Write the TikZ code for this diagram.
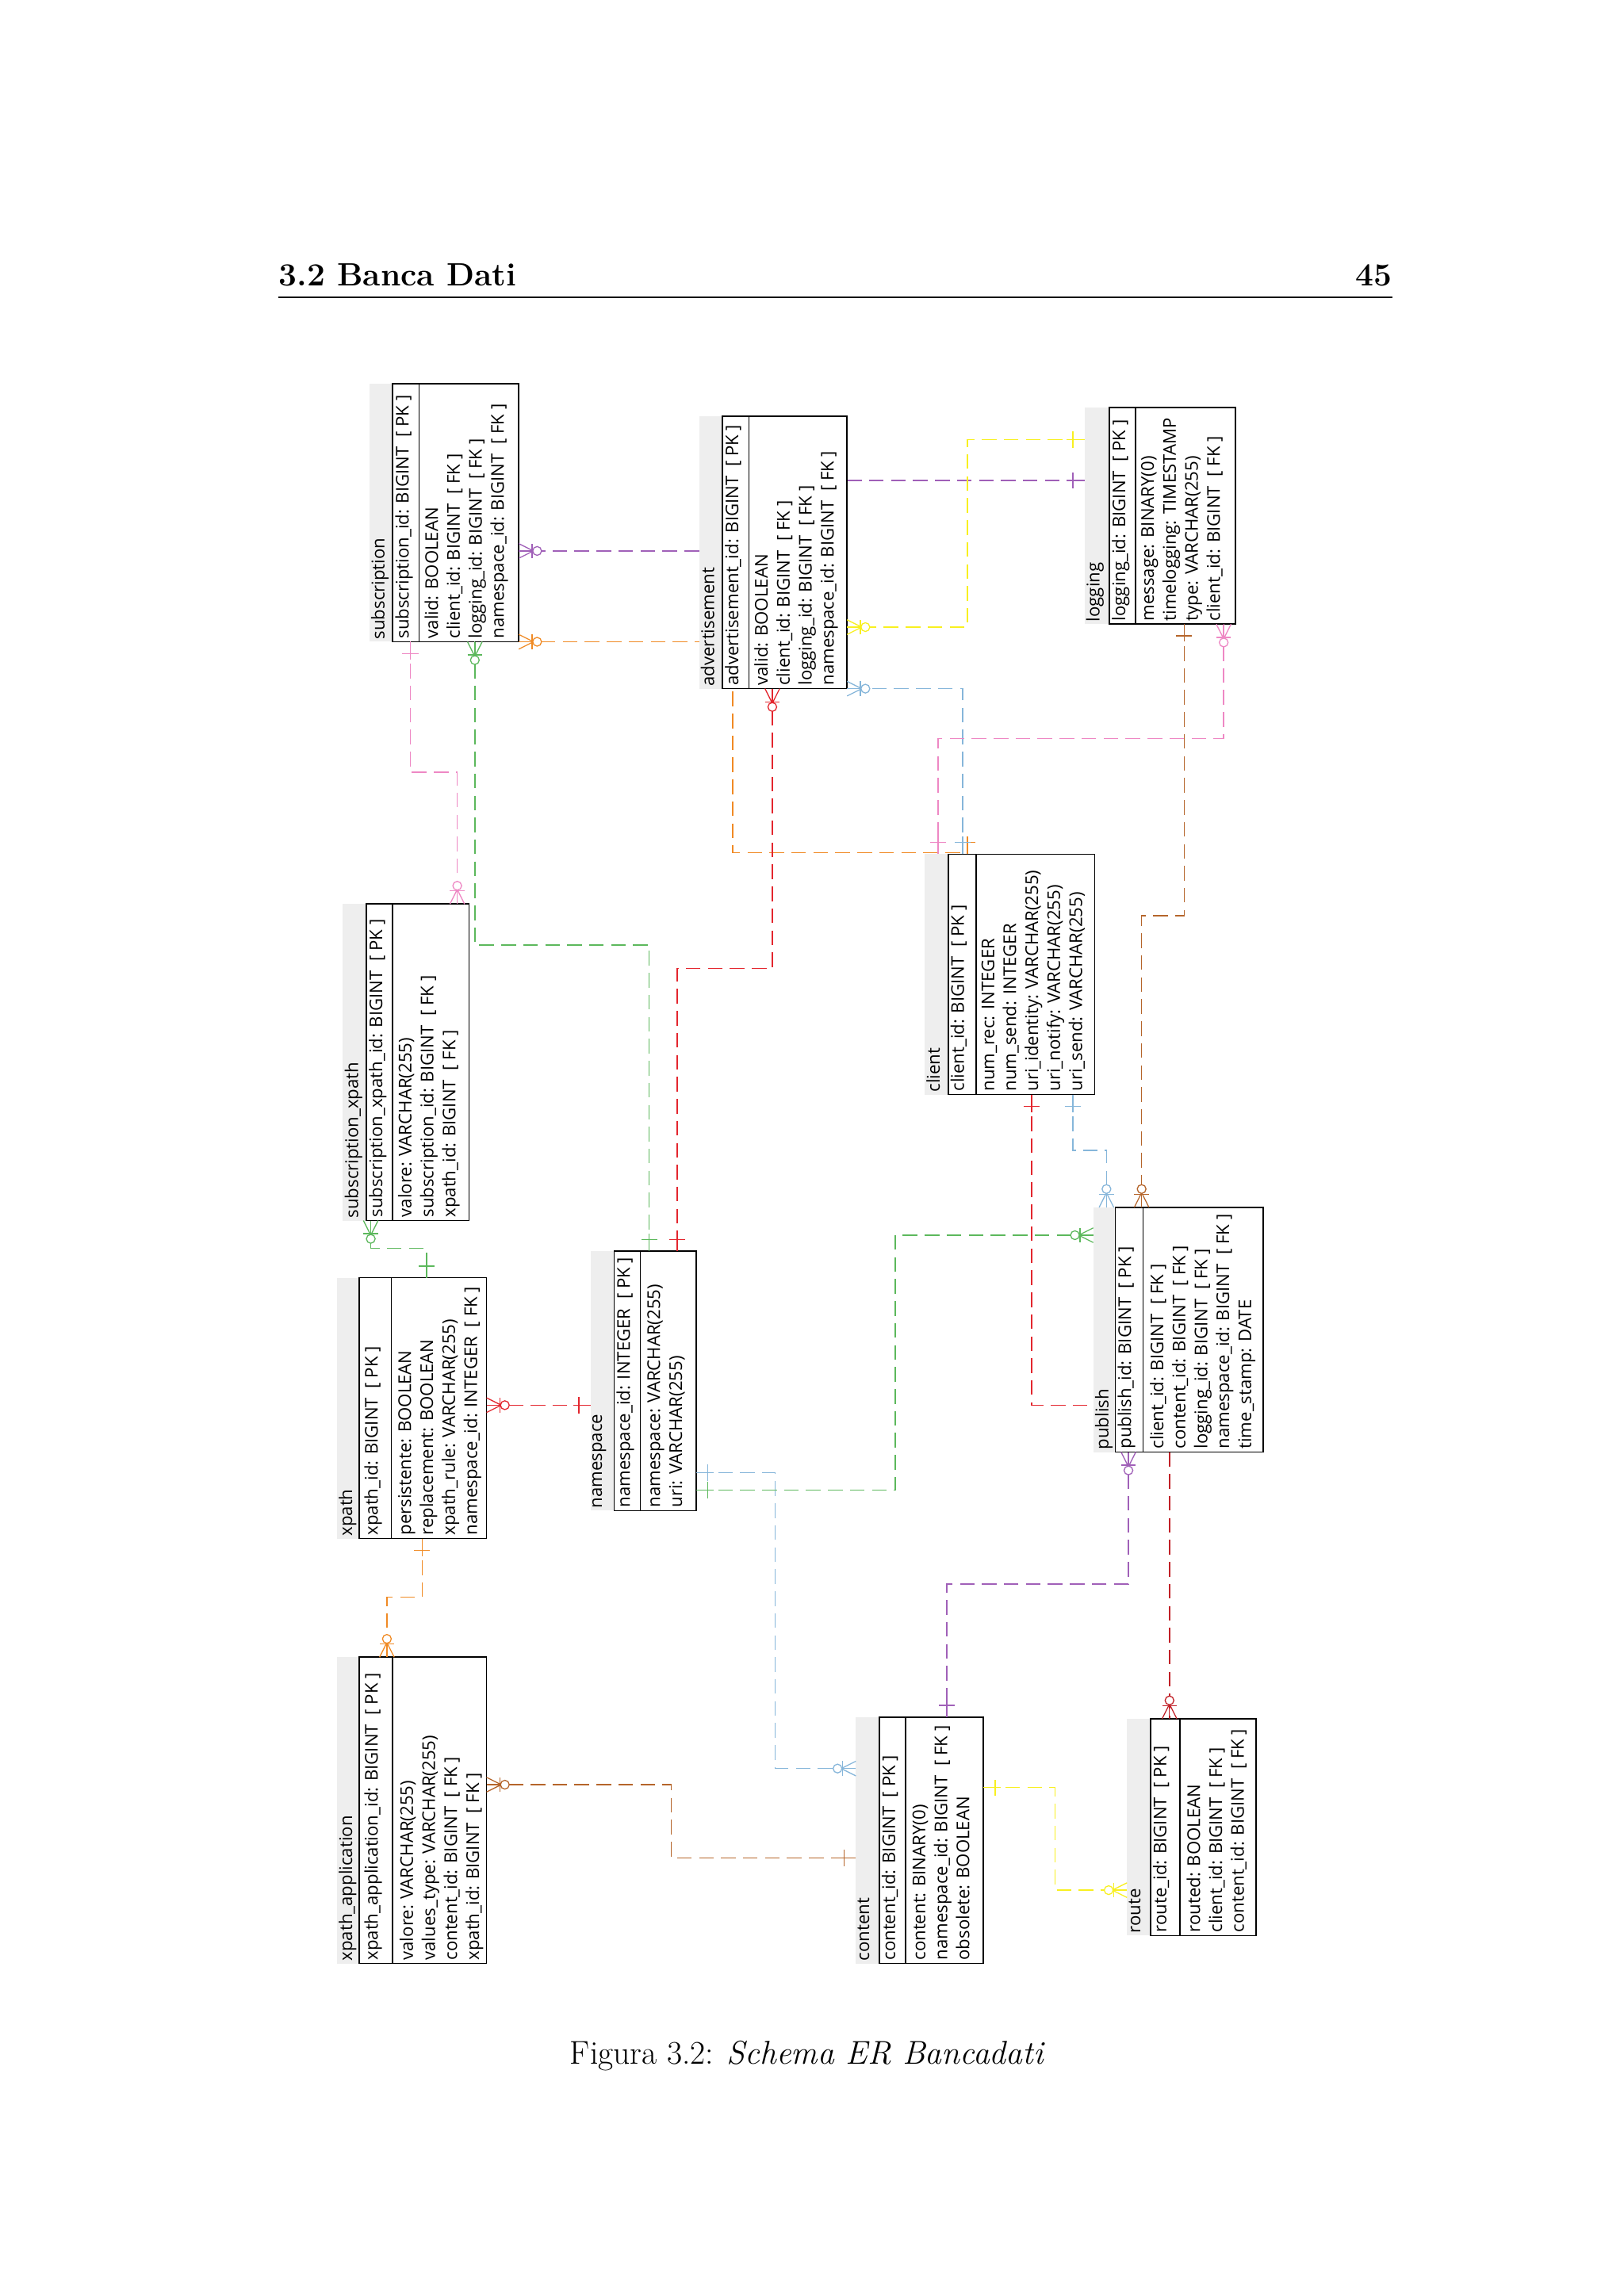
\documentclass[tikz,border=0pt]{standalone}
\usepackage{fontspec}
\newfontfamily\erfont{Open Sans}
\definecolor{cpur}{HTML}{A060B8}
\definecolor{cora}{HTML}{F08A24}
\definecolor{cgre}{HTML}{5CB85C}
\definecolor{cred}{HTML}{E3262E}
\definecolor{cblu}{HTML}{86B6DA}
\definecolor{cpin}{HTML}{EE88C4}
\definecolor{cyel}{HTML}{F8F020}
\definecolor{cbro}{HTML}{B5652B}
\tikzset{
  conn/.style={line width=.8pt, dash pattern=on 10pt off 5pt},
  ttl/.style={rotate=90, anchor=north west, inner xsep=1.5pt, inner ysep=1pt, font=\erfont\fontsize{12}{15}\selectfont},
  fld/.style={rotate=90, anchor=north west, inner xsep=2pt, inner ysep=1.5pt, align=left, font=\erfont\fontsize{12}{15}\selectfont},
}
\newcommand\ertab[8]{%
  \fill[gray!13] (#2,#6) rectangle (#3,#7);
  \node[draw, fill=white, line width=.9pt, inner sep=0pt, outer sep=0pt,
        minimum width={#5pt-#3pt}, minimum height={#7pt-#6pt}, anchor=north west] (#1) at (#3,#6) {};
  \draw[line width=.9pt] (#4,#6) -- (#4,#7);
  \node[ttl] at (#2,#7) {#8};
}
\newcommand\manyend[4]{%
  \begin{scope}[shift={(#2,#3)}, rotate=#4, #1, line width=.7pt, x=1pt, y=1pt]
    \draw (0,-5) -- (10,0) -- (0,5); \draw (0,0) -- (10,0);
    \draw (9,-5) -- (9,5); \draw[fill=white] (12.5,0) circle (3);
  \end{scope}}
\newcommand\oneend[4]{%
  \begin{scope}[shift={(#2,#3)}, rotate=#4, #1, line width=.8pt, x=1pt, y=1pt]
    \draw (0,0) -- (12,0); \draw (8,-5.5) -- (8,5.5);
  \end{scope}}
\begin{document}
\begin{tikzpicture}[x=1pt, y=-1pt]
\useasboundingbox (0,0) rectangle (1108,1567);
\fill[white] (0,0) rectangle (1108,1567);
% header
\node[anchor=base west, inner sep=0, font=\fontsize{22}{26}\selectfont\bfseries] (hd) at (190,195) {3.2 Banca Dati};
\node[anchor=base east, inner sep=0, font=\fontsize{22}{26}\selectfont\bfseries] (pg) at (950,195) {45};
\draw[line width=.8pt] (190,203) -- (950,203);
\node[inner sep=0, font=\fontsize{22.5}{26}\selectfont] (cap) at (551,1403) {Figura 3.2: \textit{Schema ER Bancadati}};

% connectors
\draw[conn, cpur] (477,376) -- (354,376);
\draw[conn, cora] (354,438) -- (500,438) -- (500,582) -- (660,582);
\draw[conn, cpur] (578,328) -- (740,328);
\draw[conn, cyel] (740,300) -- (660,300) -- (660,428) -- (578,428);
\draw[conn, cgre] (324,438) -- (324,645) -- (443,645) -- (443,854);
\draw[conn, cred] (527,470) -- (527,661) -- (462,661) -- (462,854);
\draw[conn, cblu] (657,583) -- (657,470) -- (578,470);
\draw[conn, cpin] (835,426) -- (835,504) -- (640,504) -- (640,583);
\draw[conn, cbro] (808,426) -- (808,625) -- (779,625) -- (779,824);
\draw[conn, cpin] (280,438) -- (280,527) -- (312,527) -- (312,617);
\draw[conn, cgre] (253,833) -- (253,852) -- (291,852) -- (291,872);
\draw[conn, cred] (332,959) -- (403,959);
\draw[conn, cora] (288,1050) -- (288,1090) -- (264,1090) -- (264,1131);
\draw[conn, cbro] (332,1218) -- (458,1218) -- (458,1268) -- (584,1268);
\draw[conn, cblu] (475,1005) -- (529,1005) -- (529,1207) -- (584,1207);
\draw[conn, cgre] (475,1017) -- (611,1017) -- (611,843) -- (746,843);
\draw[conn, cred] (704,747) -- (704,959) -- (746,959);
\draw[conn, cblu] (732,747) -- (732,785) -- (755,785) -- (755,824);
\draw[conn, cpur] (770,991) -- (770,1081) -- (646,1081) -- (646,1172);
\draw[conn, cred!85!black] (798,991) -- (798,1173);
\draw[conn, cyel] (671,1220) -- (720,1220) -- (720,1290) -- (769,1290);

% tables
\ertab{sub}{252}{268}{286}{354}{262}{438}{subscription}
\node[fld] at (268,438) {subscription\_id: BIGINT \ [ PK ]};
\node[fld] at (288,438) {valid: BOOLEAN\\client\_id: BIGINT \ [ FK ]\\logging\_id: BIGINT \ [ FK ]\\namespace\_id: BIGINT \ [ FK ]};

\ertab{adv}{477}{493}{511}{578}{284}{470}{advertisement}
\node[fld] at (493,470) {advertisement\_id: BIGINT \ [ PK ]};
\node[fld] at (513,470) {valid: BOOLEAN\\client\_id: BIGINT \ [ FK ]\\logging\_id: BIGINT \ [ FK ]\\namespace\_id: BIGINT \ [ FK ]};

\ertab{log}{740}{757}{775}{843}{278}{426}{logging}
\node[fld] at (757,426) {logging\_id: BIGINT \ [ PK ]};
\node[fld] at (777,426) {message: BINARY(0)\\timelogging: TIMESTAMP\\type: VARCHAR(255)\\client\_id: BIGINT \ [ FK ]};

\ertab{cli}{631}{647}{666}{747}{583}{747}{client}
\node[fld] at (647,747) {client\_id: BIGINT \ [ PK ]};
\node[fld] at (668,747) {num\_rec: INTEGER\\num\_send: INTEGER\\uri\_identity: VARCHAR(255)\\uri\_notify: VARCHAR(255)\\uri\_send: VARCHAR(255)};

\ertab{sxp}{234}{250}{268}{320}{617}{833}{subscription\_xpath}
\node[fld] at (250,833) {subscription\_xpath\_id: BIGINT \ [ PK ]};
\node[fld] at (270,833) {valore: VARCHAR(255)\\subscription\_id: BIGINT \ [ FK ]\\xpath\_id: BIGINT \ [ FK ]};

\ertab{xp}{230}{245}{267}{332}{872}{1050}{xpath}
\node[fld] at (247,1050) {xpath\_id: BIGINT \ [ PK ]};
\node[fld] at (270,1050) {persistente: BOOLEAN\\replacement: BOOLEAN\\xpath\_rule: VARCHAR(255)\\namespace\_id: INTEGER \ [ FK ]};

\ertab{ns}{403}{419}{437}{475}{854}{1031}{namespace}
\node[fld] at (419,1031) {namespace\_id: INTEGER \ [ PK ]};
\node[fld] at (440,1031) {namespace: VARCHAR(255)\\uri: VARCHAR(255)};

\ertab{pub}{746}{761}{780}{862}{824}{991}{publish}
\node[fld] at (761,991) {publish\_id: BIGINT \ [ PK ]};
\node[fld] at (783,991) {client\_id: BIGINT \ [ FK ]\\content\_id: BIGINT \ [ FK ]\\logging\_id: BIGINT \ [ FK ]\\namespace\_id: BIGINT \ [ FK ]\\time\_stamp: DATE};

\ertab{xpa}{230}{245}{268}{332}{1131}{1340}{xpath\_application}
\node[fld] at (247,1340) {xpath\_application\_id: BIGINT \ [ PK ]};
\node[fld] at (271,1340) {valore: VARCHAR(255)\\values\_type: VARCHAR(255)\\content\_id: BIGINT \ [ FK ]\\xpath\_id: BIGINT \ [ FK ]};

\ertab{con}{584}{600}{618}{671}{1172}{1340}{content}
\node[fld] at (600,1340) {content\_id: BIGINT \ [ PK ]};
\node[fld] at (621,1340) {content: BINARY(0)\\namespace\_id: BIGINT \ [ FK ]\\obsolete: BOOLEAN};

\ertab{rou}{769}{785}{805}{857}{1173}{1321}{route}
\node[fld] at (785,1321) {route\_id: BIGINT \ [ PK ]};
\node[fld] at (808,1321) {routed: BOOLEAN\\client\_id: BIGINT \ [ FK ]\\content\_id: BIGINT \ [ FK ]};

% end markers
\manyend{cpur}{354}{376}{0}
\oneend{cpur}{740}{328}{180}
\oneend{cyel}{740}{300}{180}
\manyend{cyel}{578}{428}{0}
\manyend{cora}{354}{438}{0}
\oneend{cora}{660}{583}{90}
\manyend{cgre}{324}{438}{-90}
\oneend{cgre}{443}{854}{90}
\manyend{cred}{527}{470}{-90}
\oneend{cred}{462}{854}{90}
\oneend{cblu}{657}{583}{90}
\manyend{cblu}{578}{470}{0}
\manyend{cpin}{835}{426}{-90}
\oneend{cpin}{640}{583}{90}
\oneend{cbro}{808}{426}{-90}
\manyend{cbro}{779}{824}{90}
\oneend{cpin}{280}{438}{-90}
\manyend{cpin}{312}{617}{90}
\manyend{cgre}{253}{833}{-90}
\oneend{cgre}{291}{872}{90}
\manyend{cred}{332}{959}{0}
\oneend{cred}{403}{959}{180}
\oneend{cora}{288}{1050}{-90}
\manyend{cora}{264}{1131}{90}
\manyend{cbro}{332}{1218}{0}
\oneend{cbro}{584}{1268}{180}
\oneend{cblu}{475}{1005}{0}
\manyend{cblu}{584}{1207}{180}
\oneend{cgre}{475}{1017}{0}
\manyend{cgre}{746}{843}{180}
\oneend{cred}{704}{747}{-90}
\oneend{cblu}{732}{747}{-90}
\manyend{cblu}{755}{824}{90}
\manyend{cpur}{770}{991}{-90}
\oneend{cpur}{646}{1172}{90}
\manyend{cred!85!black}{798}{1173}{90}
\oneend{cyel}{671}{1220}{0}
\manyend{cyel}{769}{1290}{180}
\end{tikzpicture}
\end{document}
